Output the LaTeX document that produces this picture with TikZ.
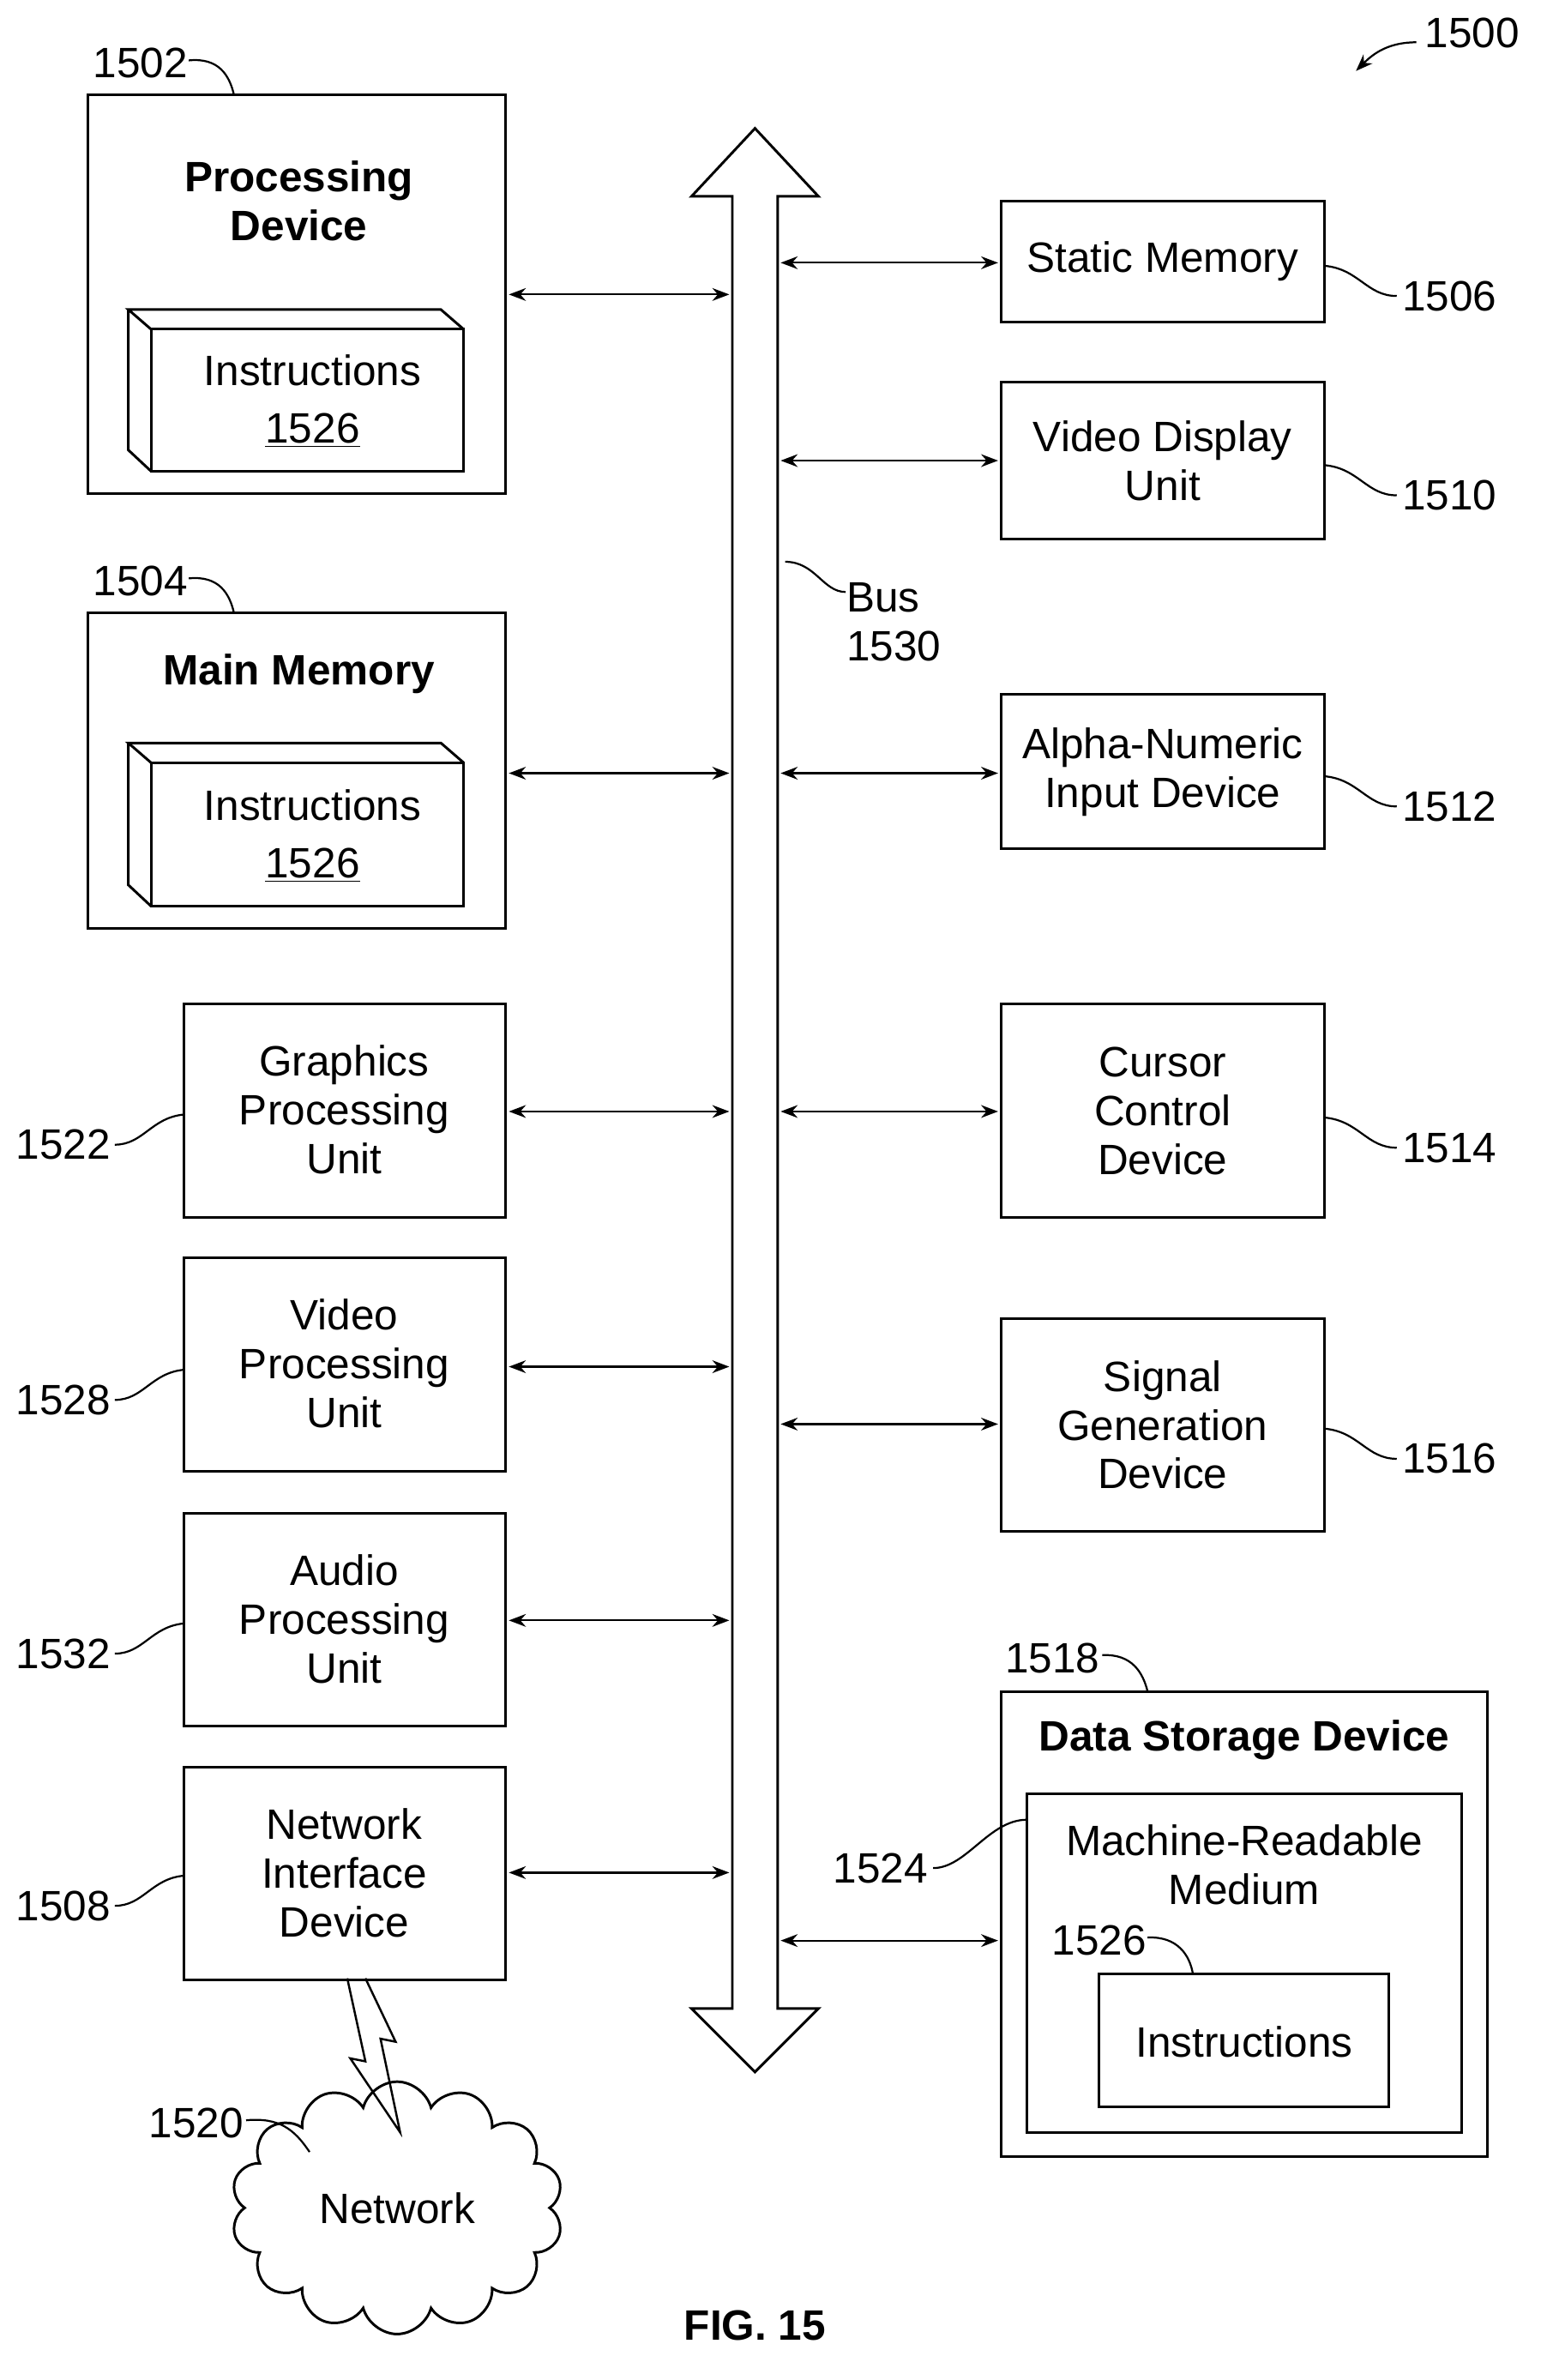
\documentclass[tikz,border=0pt]{standalone}
\usepackage{fontspec}
\setmainfont{Liberation Sans}
\usetikzlibrary{shapes.symbols,arrows.meta}
\begin{document}
\begin{tikzpicture}[x=0.025cm,y=-0.025cm,
  box/.style={draw,line width=1.2pt},
  txt/.style={align=center,font=\fontsize{20}{23}\selectfont,inner sep=0pt},
  btxt/.style={align=center,font=\fontsize{20}{23}\selectfont\bfseries,inner sep=0pt},
  lbl/.style={font=\fontsize{20}{23}\selectfont,inner sep=1pt},
  ar/.style={{Stealth[length=8pt,width=6pt]}-{Stealth[length=8pt,width=6pt]},line width=0.9pt},
  sq/.style={line width=0.9pt}]
\useasboundingbox (0,0) rectangle (1024,1576);
% bus
\draw[line width=1.2pt,fill=white] (500,85) -- (542,130) -- (515,130) -- (515,1330) -- (542,1330) -- (500,1372) -- (458,1330) -- (485,1330) -- (485,130) -- (458,130) -- cycle;
\coordinate (busL) at (485,0); \coordinate (busR) at (515,0);
\node[lbl,align=left] (bus) at (592,412) {Bus\\1530};
\draw[sq] (520,372) .. controls (540,372) and (545,392) .. (560,392);
% processing device
\draw[box] (58,63) rectangle (335,327);
\node (pd) at (335,195) {};
\node[btxt] at (198,133) {Processing\\Device};
\draw[box] (100,218) rectangle (307,312);
\draw[box] (100,218) -- (85,205) -- (292,205) -- (307,218) (85,205) -- (85,298) -- (100,312);
\node[txt] at (207,245) {Instructions};
\node[txt] at (207,285) {\underline{1526}};
\node[lbl] (l1502) at (93,42) {1502};
\draw[sq] (125,40) .. controls (145,38) and (152,50) .. (155,63);
% main memory
\draw[box] (58,406) rectangle (335,615);
\node[btxt] at (198,446) {Main Memory};
\draw[box] (100,505) rectangle (307,600);
\draw[box] (100,505) -- (85,492) -- (292,492) -- (307,505) (85,492) -- (85,586) -- (100,600);
\node[txt] at (207,533) {Instructions};
\node[txt] at (207,573) {\underline{1526}};
\node[lbl] (l1504) at (93,385) {1504};
\draw[sq] (125,383) .. controls (145,381) and (152,393) .. (155,406);
% left boxes
\foreach \y/\t/\l/\ly/\ay in {665/{Graphics\\Processing\\Unit}/1522/758/736, 833/{Video\\Processing\\Unit}/1528/927/905, 1002/{Audio\\Processing\\Unit}/1532/1095/1073, 1170/{Network\\Interface\\Device}/1508/1262/1240}{
  \draw[box] (122,\y) rectangle (335,\y+141);
  \node[txt] at (228,\y+70) {\t};
  \node[lbl] at (42,\ly) {\l};
  \draw[sq] (76,\ly) .. controls (95,\ly) and (100,\ly-18) .. (122,\ly-20);
}
\foreach \y in {195,512,736,905,1073,1240}{ \draw[ar] (337,\y) -- (483,\y); }
% right boxes
\foreach \a/\b/\t/\l/\ly in {133/213/{Static Memory}/1506/196, 253/357/{Video Display\\Unit}/1510/328, 460/562/{Alpha-Numeric\\Input Device}/1512/534, 665/806/{Cursor\\Control\\Device}/1514/760, 873/1014/{Signal\\Generation\\Device}/1516/966}{
  \draw[box] (663,\a) rectangle (877,\b);
  \node[txt] at (770,{(\a+\b)/2}) {\t};
  \node[lbl] at (960,\ly) {\l};
  \draw[sq] (877,\ly-20) .. controls (900,\ly-18) and (905,\ly) .. (925,\ly);
}
\foreach \y in {174,305,512,736,943,1285}{ \draw[ar] (517,\y) -- (661,\y); }
% data storage
\draw[box] (663,1120) rectangle (985,1428);
\draw[box] (680,1188) rectangle (968,1412);
\node[btxt] at (824,1152) {Data Storage Device};
\node[txt] at (824,1235) {Machine-Readable\\Medium};
\draw[box] (728,1307) rectangle (920,1395);
\node[txt] at (824,1352) {Instructions};
\node[lbl] at (728,1285) {1526};
\draw[sq] (760,1283) .. controls (780,1282) and (788,1295) .. (790,1307);
\node[lbl] at (697,1098) {1518};
\draw[sq] (730,1096) .. controls (750,1095) and (757,1108) .. (760,1120);
\node[lbl] at (583,1237) {1524};
\draw[sq] (618,1237) .. controls (640,1237) and (655,1205) .. (680,1205);
% network
\draw[line width=1pt] (230,1310) -- (242,1365) -- (232,1363) -- (265,1412) -- (252,1350) -- (262,1352) -- (242,1310);
\node[cloud,draw,line width=1.2pt,cloud puffs=14,minimum width=220\pgflinewidth*0+5.5cm,minimum height=1.9cm,txt] (net) at (263,1462) {Network};
\node[lbl] at (130,1406) {1520};
\draw[sq] (163,1404) .. controls (185,1402) and (195,1410) .. (205,1425);
% fig number
\node[lbl] at (975,22) {1500};
\draw[sq,-{Stealth[length=8pt,width=6pt]}] (938,28) .. controls (920,28) and (910,35) .. (898,47);
\node[btxt] at (500,1540) {FIG. 15};
\end{tikzpicture}
\end{document}
